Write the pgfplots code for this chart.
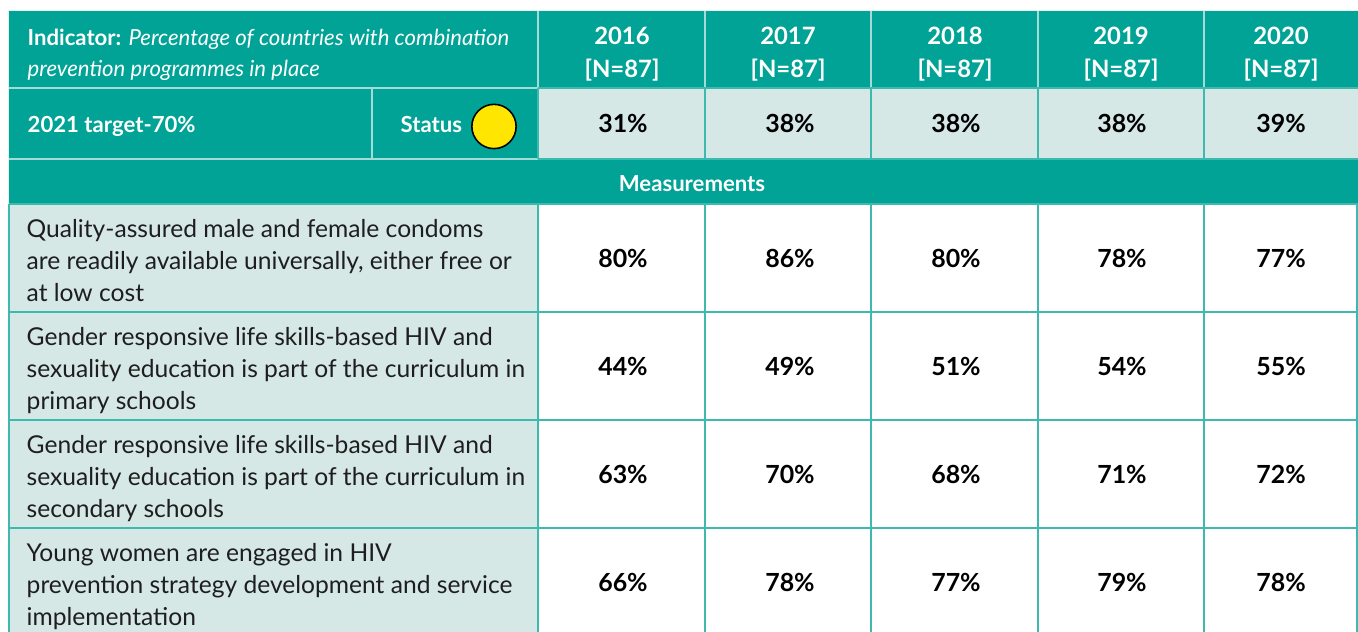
\documentclass[border=0pt]{standalone}
\usepackage{fontspec}
\setmainfont{Lato}
\usepackage{pgfplots}
\pgfplotsset{compat=1.18}
\usepackage{pgfplotstable}
\definecolor{tealbg}{HTML}{00A396}
\definecolor{lightbg}{HTML}{D5E8E5}
\definecolor{gridln}{HTML}{3DB9AE}
\definecolor{hdrln}{HTML}{A3DCD6}
\definecolor{ink}{HTML}{1E1E1E}
\definecolor{dot}{HTML}{FFE600}

% values: x = column centre, y = baseline (px from top)
\pgfplotstableread{
x    y   v
623  133 31
790  133 38
956  133 38
1122 133 38
1281 133 39
623  268 80
790  268 86
956  268 80
1122 268 78
1281 268 77
623  376 44
790  376 49
956  376 51
1122 376 54
1281 376 55
623  484 63
790  484 70
956  484 68
1122 484 71
1281 484 72
623  592 66
790  592 78
956  592 77
1122 592 79
1281 592 78
}\valtab

\newcommand{\cell}[5]{\addplot[draw=none,fill=#5] coordinates {(#1,#2) (#3,#2) (#3,#4) (#1,#4) (#1,#2)};}
\newcommand{\seg}[5]{\addplot[draw=#5,line width=0.57pt] coordinates {(#1,#2) (#3,#4)};}
\newcommand{\bodyfont}{\fontsize{7}{9}\selectfont\color{ink}}
\newcommand{\hdfont}{\fontsize{6.3}{8}\selectfont\bfseries\color{white}}
\newcommand{\yrfont}{\fontsize{6.8}{8}\selectfont\bfseries\color{white}}
\newcommand{\yearhead}[2]{%
  \node[anchor=base, inner sep=0pt] at (#1,45) {\yrfont #2};
  \node[anchor=base, inner sep=0pt] at (#1,78) {\yrfont [N=87]};}

\begin{document}
\begin{tikzpicture}
\begin{axis}[
  width=386.4pt, height=179.8pt, scale only axis,
  xmin=0, xmax=1358, ymin=0, ymax=632, y dir=reverse,
  hide axis, clip=true,
]
% cell backgrounds
\cell{0}{0}{1358}{632}{white}
\cell{9}{11}{1358}{88}{tealbg}
\cell{9}{88}{538}{159}{tealbg}
\cell{538}{88}{1358}{159}{lightbg}
\cell{9}{159}{1358}{204}{tealbg}
\cell{9}{204}{538}{632}{lightbg}

% header separators
\seg{538}{11}{538}{88}{hdrln}
\seg{705}{11}{705}{88}{hdrln}
\seg{871}{11}{871}{88}{hdrln}
\seg{1038}{11}{1038}{88}{hdrln}
\seg{1204}{11}{1204}{88}{hdrln}
\seg{9}{88}{538}{88}{hdrln}
\seg{372}{88}{372}{159}{hdrln}
\seg{9}{159}{538}{159}{hdrln}
\seg{538}{88}{1358}{88}{gridln}
\seg{538}{159}{1358}{159}{gridln}
\seg{538}{88}{538}{159}{gridln}
\seg{705}{88}{705}{159}{gridln}
\seg{871}{88}{871}{159}{gridln}
\seg{1038}{88}{1038}{159}{gridln}
\seg{1204}{88}{1204}{159}{gridln}

% body grid
\seg{9}{204}{1358}{204}{gridln}
\seg{9}{312}{1358}{312}{gridln}
\seg{9}{420}{1358}{420}{gridln}
\seg{9}{528}{1358}{528}{gridln}
\seg{9}{204}{9}{632}{gridln}
\seg{538}{204}{538}{632}{gridln}
\seg{705}{204}{705}{632}{gridln}
\seg{871}{204}{871}{632}{gridln}
\seg{1038}{204}{1038}{632}{gridln}
\seg{1204}{204}{1204}{632}{gridln}
\seg{1357}{204}{1357}{632}{gridln}

% status dot
\addplot[only marks, mark=*, mark size=6.3pt,
  mark options={fill=dot, draw=black, line width=0.45pt}] coordinates {(494,126.5)};

% values
\addplot[draw=none, mark=none, point meta=explicit symbolic,
  nodes near coords={\pgfplotspointmeta\%},
  nodes near coords align={anchor=base},
  every node near coord/.append style={inner sep=0pt,
    font=\fontsize{7.1}{8}\selectfont\bfseries, text=black}]
  table[x=x, y=y, meta=v] {\valtab};

% header text
\node[anchor=base west, inner sep=0pt] at (27,46)
  {\hdfont Indicator: \mdseries\itshape Percentage of countries with combination};
\node[anchor=base west, inner sep=0pt] at (27,77)
  {\hdfont\mdseries\itshape prevention programmes in place};
\node[anchor=base west, inner sep=0pt] at (27,133) {\hdfont 2021 target-70\%};
\node[anchor=base west, inner sep=0pt] at (400,133) {\hdfont Status};
\node[anchor=base, inner sep=0pt] at (692,192) {\hdfont Measurements};

\yearhead{622}{2016}
\yearhead{788}{2017}
\yearhead{955}{2018}
\yearhead{1121}{2019}
\yearhead{1281}{2020}

% measurement labels
\node[anchor=base west, inner sep=0pt] at (26,238) {\bodyfont Quality-assured male and female condoms};
\node[anchor=base west, inner sep=0pt] at (26,270) {\bodyfont are readily available universally, either free or};
\node[anchor=base west, inner sep=0pt] at (26,302) {\bodyfont at low cost};
\node[anchor=base west, inner sep=0pt] at (26,346) {\bodyfont Gender responsive life skills-based HIV and};
\node[anchor=base west, inner sep=0pt] at (26,378) {\bodyfont sexuality education is part of the curriculum in};
\node[anchor=base west, inner sep=0pt] at (26,410) {\bodyfont primary schools};
\node[anchor=base west, inner sep=0pt] at (26,454) {\bodyfont Gender responsive life skills-based HIV and};
\node[anchor=base west, inner sep=0pt] at (26,486) {\bodyfont sexuality education is part of the curriculum in};
\node[anchor=base west, inner sep=0pt] at (26,518) {\bodyfont secondary schools};
\node[anchor=base west, inner sep=0pt] at (26,562) {\bodyfont Young women are engaged in HIV};
\node[anchor=base west, inner sep=0pt] at (26,594) {\bodyfont prevention strategy development and service};
\node[anchor=base west, inner sep=0pt] at (26,626) {\bodyfont implementation};
\end{axis}
\end{tikzpicture}
\end{document}
